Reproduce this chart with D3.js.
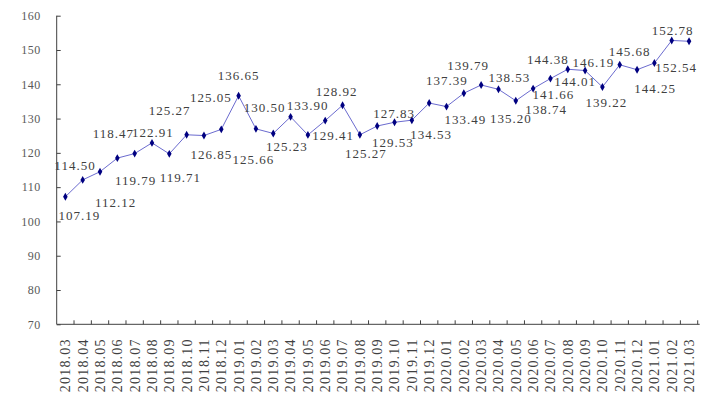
<!DOCTYPE html>
<html>
<head>
<meta charset="utf-8">
<script src="https://cdn.jsdelivr.net/npm/d3@7"></script>
<style>
body{margin:0;background:#fff;}
svg{display:block;}
</style>
</head>
<body>
<script>
// months on the x axis
let months=["2018.03","2018.04","2018.05","2018.06","2018.07","2018.08","2018.09","2018.10","2018.11","2018.12",
"2019.01","2019.02","2019.03","2019.04","2019.05","2019.06","2019.07","2019.08","2019.09","2019.10","2019.11","2019.12",
"2020.01","2020.02","2020.03","2020.04","2020.05","2020.06","2020.07","2020.08","2020.09","2020.10","2020.11","2020.12",
"2021.01","2021.02","2021.03"];

// index values
let values=[107.19,112.12,114.50,118.47,119.79,122.91,119.71,125.27,125.05,126.85,
136.65,127.00,125.66,130.50,125.23,129.41,133.90,125.27,127.83,128.92,129.53,134.53,
133.49,137.39,139.79,138.53,135.20,138.74,141.66,144.38,144.01,139.22,145.68,144.25,
146.19,152.78,152.54];

// which points carry a printed label (2019.02 has none)
let showLabel=values.map((v,i)=>i!==11);

let yTicks=[70,80,90,100,110,120,130,140,150,160];

// label placement relative to its point (px)
let labelShift=[[14,19],[33,23],[-25,-6],[-4,-25],[1,27],[1,-10],[11,24],[-17,-24],[7,-38],[-10,25],
[0,-20],[0,0],[-20,26],[-26,-9],[-21,12],[8,15],[-35,0],[6,19],[17,-13],[-58,-31],[-19,22],[2,31],
[19,13],[-17,-13],[-13,-20],[11,-12],[-5,18],[13,21],[3,16],[-20,-10],[-10,11],[4,15],[10,-13],[18,19],
[-61,-1],[1,-10],[-13,26]];

let W=704,H=396;
let mLeft=56.7,mRight=697.7,mTop=15.7,mBottom=324.3;

let svg=d3.select("body").append("svg").attr("width",W).attr("height",H);

let x=d3.scaleBand().domain(months).range([mLeft,mRight]).padding(0);
let y=d3.scaleLinear().domain([70,160]).range([mBottom,mTop]);
let cx=i=>x(months[i])+x.bandwidth()/2;

// y axis
let yAxis=svg.append("g").attr("transform",`translate(${mLeft},0)`)
  .call(d3.axisLeft(y).tickValues(yTicks).tickSize(-4).tickPadding(16).tickFormat(d3.format("d")));
yAxis.select(".domain").attr("stroke","#404040").attr("d",`M0,${mBottom}V${mTop}`);
yAxis.selectAll(".tick line").attr("stroke","#404040");
yAxis.selectAll(".tick text").style("font","12px 'Liberation Serif'").style("letter-spacing","0.5px").attr("fill","#595959");

// x axis: labels at category centres, ticks at category edges
let xAxis=svg.append("g").attr("transform",`translate(0,${mBottom})`)
  .call(d3.axisBottom(x).tickSize(0).tickPadding(0));
xAxis.select(".domain").attr("stroke","#404040").attr("d",`M${mLeft},0H${mRight+2}`);
xAxis.selectAll(".tick text")
  .attr("transform","rotate(-90)")
  .attr("x",-14).attr("y",0).attr("dy","0.35em")
  .style("text-anchor","end")
  .style("font","14px 'Liberation Serif'").style("letter-spacing","1.2px").attr("fill","#404040");

svg.append("g").selectAll("line").data(months).enter().append("line")
  .attr("x1",d=>x(d)+x.bandwidth()).attr("x2",d=>x(d)+x.bandwidth())
  .attr("y1",mBottom).attr("y2",mBottom-4).attr("stroke","#404040");

// line
let line=d3.line().x((d,i)=>cx(i)).y(d=>y(d));
svg.append("path").datum(values).attr("d",line).attr("fill","none").attr("stroke","#6b6bcf").attr("stroke-width",1);

// markers
svg.append("g").selectAll("path").data(values).enter().append("path")
  .attr("d",d3.symbol().type(d3.symbolDiamond).size(18))
  .attr("transform",(d,i)=>`translate(${cx(i)},${y(d)})`)
  .attr("fill","#000080");

// data labels
let idx=d3.range(values.length).filter(i=>showLabel[i]);
svg.append("g").selectAll("text").data(idx).enter().append("text")
  .text(i=>values[i].toFixed(2))
  .attr("x",i=>cx(i)+labelShift[i][0])
  .attr("y",i=>y(values[i])+labelShift[i][1])
  .attr("dy","0.35em")
  .style("text-anchor","middle")
  .style("font","13px 'Liberation Serif'").style("letter-spacing","1px")
  .attr("fill","#404040");
</script>
</body>
</html>
